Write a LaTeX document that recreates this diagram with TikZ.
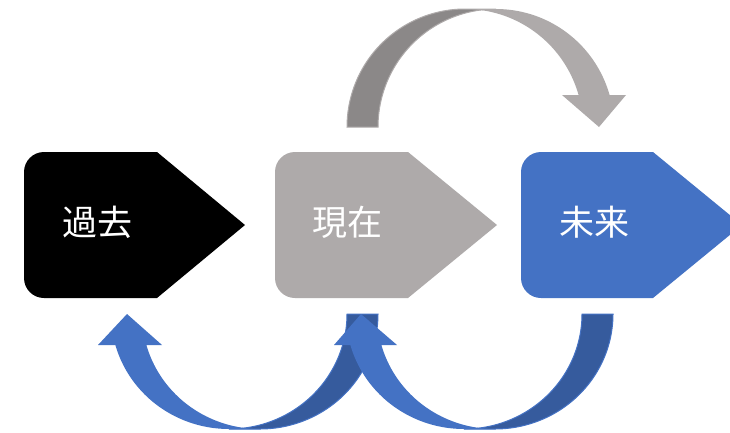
\documentclass[tikz,border=0pt]{standalone}
\usepackage{fontspec}
\newfontfamily\cjk{Noto Sans CJK JP}
\definecolor{blueM}{HTML}{4472C4}
\definecolor{blueD}{HTML}{365B9D}
\definecolor{grayM}{HTML}{AEAAAA}
\definecolor{grayD}{HTML}{8B8888}
\tikzset{
  lbl/.style={text=white, font=\cjk\fontsize{35}{38}\selectfont, inner sep=0pt},
  ell/.style={samples=50, smooth}
}
\newcommand{\plate}[3]{% left x, shoulder x, tip x
  (#2,152) -- (#3,225) -- (#2,298) -- ({#1+20},298)
  arc[start angle=-90, end angle=-180, radius=20pt] -- ({#1},172)
  arc[start angle=180, end angle=90, radius=20pt] -- cycle}
\begin{document}
\begin{tikzpicture}[x=1pt,y=-1pt]
\useasboundingbox (0,0) rectangle (730,432);
\clip (0,0) rectangle (730,432);
\fill[white] (0,0) rectangle (730,432);
% boxes
\fill[black] \plate{24}{157}{245};
\fill[grayM] \plate{275}{408}{497};
\fill[blueM] \plate{521}{653}{742};
\node[lbl] (past) at (97,222) {過去};
\node[lbl] (present) at (347,222) {現在};
\node[lbl] (future) at (594,222) {未来};
% top curved arrow
\filldraw[fill=grayD, draw=grayM, line width=1pt]
  plot[ell, domain=180:90] ({465+118*cos(\x)},{127-118*sin(\x)})
  -- plot[ell, domain=90:180] ({496+118*cos(\x)},{127-118*sin(\x)}) -- cycle;
\fill[grayM]
  plot[ell, domain=90:15.73] ({496+118*cos(\x)},{127-118*sin(\x)})
  -- (626,95) -- (599,127) -- (562,95)
  -- plot[ell, domain=15.73:90] ({465+118*cos(\x)},{127-118*sin(\x)}) -- cycle;
% bottom arrow 1
\filldraw[fill=blueD, draw=blueM, line width=1pt]
  plot[ell, domain=0:-90] ({260+118*cos(\x)},{314-115*sin(\x)})
  -- plot[ell, domain=-90:0] ({229+118*cos(\x)},{314-115*sin(\x)}) -- cycle;
\fill[blueM]
  plot[ell, domain=270:195.64] ({229+118*cos(\x)},{314-115*sin(\x)})
  -- (98,345) -- (127,314) -- (162,345)
  -- plot[ell, domain=195.64:270] ({260+118*cos(\x)},{314-115*sin(\x)}) -- cycle;
% bottom arrow 2
\filldraw[fill=blueD, draw=blueM, line width=1pt]
  plot[ell, domain=0:-90] ({495+118*cos(\x)},{314-115*sin(\x)})
  -- plot[ell, domain=-90:0] ({464+118*cos(\x)},{314-115*sin(\x)}) -- cycle;
\fill[blueM]
  plot[ell, domain=270:195.64] ({464+118*cos(\x)},{314-115*sin(\x)})
  -- (334,345) -- (361,314) -- (397,345)
  -- plot[ell, domain=195.64:270] ({495+118*cos(\x)},{314-115*sin(\x)}) -- cycle;
\end{tikzpicture}
\end{document}
